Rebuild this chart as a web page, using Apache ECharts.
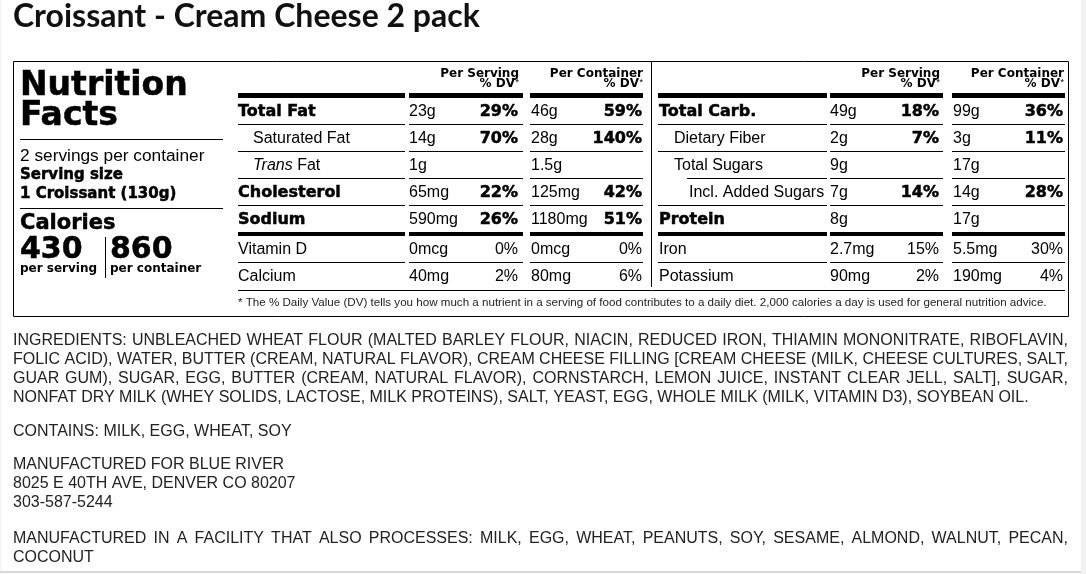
<!DOCTYPE html>
<html>
<head>
<meta charset="utf-8">
<script src="https://cdn.jsdelivr.net/npm/echarts@6/dist/echarts.min.js"></script>
<style>
  html, body { margin: 0; padding: 0; background: #fff; }
  #chart { width: 1086px; height: 574px; }
</style>
</head>
<body>
<div id="chart"></div>
<script>
// label content
const productName = 'Croissant - Cream Cheese 2 pack';
const servingsLine = '2 servings per container';
const servingSize = '1 Croissant (130g)';
const calories = ['430', '860'];
const calorieUnits = ['per serving', 'per container'];
const columnHeads = ['Per Serving', 'Per Container'];

const leftNames = ['Total Fat', 'Saturated Fat', 'Trans Fat', 'Cholesterol', 'Sodium', 'Vitamin D', 'Calcium'];
const leftServing = ['23g', '14g', '1g', '65mg', '590mg', '0mcg', '40mg'];
const leftServingDV = ['29%', '70%', '', '22%', '26%', '0%', '2%'];
const leftContainer = ['46g', '28g', '1.5g', '125mg', '1180mg', '0mcg', '80mg'];
const leftContainerDV = ['59%', '140%', '', '42%', '51%', '0%', '6%'];
const leftKinds = ['main', 'sub', 'trans', 'main', 'main', 'vit', 'vit'];

const rightNames = ['Total Carb.', 'Dietary Fiber', 'Total Sugars', 'Incl. Added Sugars', 'Protein', 'Iron', 'Potassium'];
const rightServing = ['49g', '2g', '9g', '7g', '8g', '2.7mg', '90mg'];
const rightServingDV = ['18%', '7%', '', '14%', '', '15%', '2%'];
const rightContainer = ['99g', '3g', '17g', '14g', '17g', '5.5mg', '190mg'];
const rightContainerDV = ['36%', '11%', '', '28%', '', '30%', '4%'];
const rightKinds = ['main', 'sub', 'sub', 'sub2', 'main', 'vit', 'vit'];

const footnote = '* The % Daily Value (DV) tells you how much a nutrient in a serving of food contributes to a daily diet. 2,000 calories a day is used for general nutrition advice.';

const ingredientLines = [
  'INGREDIENTS: UNBLEACHED WHEAT FLOUR (MALTED BARLEY FLOUR, NIACIN, REDUCED IRON, THIAMIN MONONITRATE, RIBOFLAVIN,',
  'FOLIC ACID), WATER, BUTTER (CREAM, NATURAL FLAVOR), CREAM CHEESE FILLING [CREAM CHEESE (MILK, CHEESE CULTURES, SALT,',
  'GUAR GUM), SUGAR, EGG, BUTTER (CREAM, NATURAL FLAVOR), CORNSTARCH, LEMON JUICE, INSTANT CLEAR JELL, SALT], SUGAR,',
  'NONFAT DRY MILK (WHEY SOLIDS, LACTOSE, MILK PROTEINS), SALT, YEAST, EGG, WHOLE MILK (MILK, VITAMIN D3), SOYBEAN OIL.'
];
const containsLine = 'CONTAINS: MILK, EGG, WHEAT, SOY';
const addressLines = ['MANUFACTURED FOR BLUE RIVER', '8025 E 40TH AVE, DENVER CO 80207', '303-587-5244'];
const facilityLines = [
  'MANUFACTURED IN A FACILITY THAT ALSO PROCESSES: MILK, EGG, WHEAT, PEANUTS, SOY, SESAME, ALMOND, WALNUT, PECAN,',
  'COCONUT'
];

// fonts
const SANS = '"Liberation Sans", Arial, sans-serif';
const HEAVY = '"DejaVu Sans", sans-serif';

const els = [];

function txt(x, base, text, o) {
  o = o || {};
  const size = o.size || 16;
  // big heavy text gets a thin outline so it reads as black weight
  const heavy = o.family === HEAVY && size >= 15;
  els.push({
    type: 'text', x: x, y: base - size * 0.33, silent: true,
    style: {
      text: text,
      fontSize: size,
      fontFamily: o.family || SANS,
      fontWeight: o.weight || 'normal',
      fontStyle: o.italic ? 'italic' : 'normal',
      fill: o.color || '#000',
      stroke: heavy ? '#000' : null,
      lineWidth: heavy ? 0.5 : 0,
      align: o.align || 'left',
      verticalAlign: 'middle',
      rich: o.rich
    }
  });
}
function hline(x1, x2, y, w, c) {
  els.push({ type: 'line', silent: true, shape: { x1: x1, y1: y, x2: x2, y2: y }, style: { stroke: c || '#000', lineWidth: w || 1 } });
}
function vline(x, y1, y2) {
  els.push({ type: 'line', silent: true, shape: { x1: x, y1: y1, x2: x, y2: y2 }, style: { stroke: '#000', lineWidth: 1 } });
}
function box(x, y, w, h, fill) {
  els.push({ type: 'rect', silent: true, shape: { x: x, y: y, width: w, height: h }, style: { fill: fill } });
}

// page edges
box(1081, 0, 5, 574, '#f1f1f1');
box(0, 0, 2, 574, '#f6f6f6');
box(0, 571, 1081, 2, '#d8d8d8');

// title
txt(13, 27, productName, { size: 32, family: 'Lato', weight: 'bold', color: '#111' });

// outer label border
els.push({ type: 'rect', silent: true, shape: { x: 13.5, y: 61.5, width: 1055, height: 255 }, style: { fill: 'none', stroke: '#000', lineWidth: 1 } });

// left panel
txt(20, 97, 'Nutrition', { size: 33, family: HEAVY, weight: 'bold' });
txt(20, 127, 'Facts', { size: 33, family: HEAVY, weight: 'bold' });
hline(20, 223, 139.5);
txt(20, 162, servingsLine, { size: 17.3 });
txt(20, 180, 'Serving size', { size: 15, family: HEAVY, weight: 'bold' });
txt(20, 199, servingSize, { size: 15, family: HEAVY, weight: 'bold' });
hline(20, 223, 208.5);
txt(20, 230, 'Calories', { size: 21, family: HEAVY, weight: 'bold' });
txt(20, 260, calories[0], { size: 30, family: HEAVY, weight: 'bold' });
txt(110, 260, calories[1], { size: 30, family: HEAVY, weight: 'bold' });
txt(20, 273, calorieUnits[0], { size: 12, family: HEAVY, weight: 'bold' });
txt(110, 273, calorieUnits[1], { size: 12, family: HEAVY, weight: 'bold' });
vline(105.5, 237, 278);

// tables
const tables = [
  { names: leftNames, sv: leftServing, sdv: leftServingDV, cv: leftContainer, cdv: leftContainerDV, kinds: leftKinds,
    seg: [[238, 405], [409, 523], [530, 643]], nameX: 238, sRight: 518, cRight: 642 },
  { names: rightNames, sv: rightServing, sdv: rightServingDV, cv: rightContainer, cdv: rightContainerDV, kinds: rightKinds,
    seg: [[658, 827], [830, 943], [952, 1065]], nameX: 659, sRight: 939, cRight: 1063 }
];
const rowTops = [98, 125, 152, 179, 206, 236, 263];

tables.forEach(function (t) {
  // column heads
  [[t.sRight, columnHeads[0]], [t.cRight, columnHeads[1]]].forEach(function (h) {
    txt(h[0] + 1, 78, h[1], { size: 12, family: HEAVY, weight: 'bold', align: 'right' });
    txt(h[0] - 3, 88, '% DV', { size: 12, family: HEAVY, weight: 'bold', align: 'right' });
    txt(h[0] + 1, 85, '*', { size: 9, align: 'right' });
  });
  t.seg.forEach(function (s) {
    box(s[0], 93, s[1] - s[0], 5, '#000');
    box(s[0], 232, s[1] - s[0], 4, '#000');
  });
  t.names.forEach(function (name, i) {
    const kind = t.kinds[i];
    const top = rowTops[i];
    const base = top + 19;
    if (i !== 0 && i !== 5) {
      t.seg.forEach(function (s, j) {
        const x1 = (j === 0 && kind === 'sub2') ? s[0] + 29 : s[0];
        hline(x1, s[1], top - 0.5);
      });
    }
    const bold = kind === 'main';
    let nx = t.nameX;
    if (kind === 'sub' || kind === 'trans') nx += 15;
    if (kind === 'sub2') nx += 30;
    if (kind === 'trans') {
      txt(nx, base, '{i|Trans} Fat', { size: 16, rich: { i: { fontStyle: 'italic', fontSize: 16, fontFamily: SANS } } });
    } else {
      txt(nx, base, name, bold ? { size: 16, family: HEAVY, weight: 'bold' } : { size: 16 });
    }
    txt(t.seg[1][0], base, t.sv[i], { size: 16 });
    txt(t.seg[2][0] + 1, base, t.cv[i], { size: 16 });
    const dvStyle = kind === 'vit' ? { size: 16, align: 'right' } : { size: 16, family: HEAVY, weight: 'bold', align: 'right' };
    if (t.sdv[i]) txt(t.sRight, base, t.sdv[i], dvStyle);
    if (t.cdv[i]) txt(t.cRight, base, t.cdv[i], dvStyle);
  });
});
vline(651.5, 62, 287);
hline(238, 1065, 290.5);
txt(238, 307, footnote, { size: 11.6, color: '#222' });

// ingredient text, justified like the page
const ctx = document.createElement('canvas').getContext('2d');
ctx.font = '16px "Liberation Sans"';
function justified(line, base) {
  const words = line.split(' ');
  const widths = words.map(function (w) { return ctx.measureText(w).width; });
  const total = widths.reduce(function (a, b) { return a + b; }, 0);
  const gap = (1055 - total) / (words.length - 1);
  let x = 13;
  words.forEach(function (w, k) {
    txt(x, base, w, { size: 16, color: '#222' });
    x += widths[k] + gap;
  });
}
ingredientLines.forEach(function (l, i) {
  if (i < ingredientLines.length - 1) justified(l, 346 + i * 19);
  else txt(13, 346 + i * 19, l, { size: 16, color: '#222' });
});
txt(13, 437, containsLine, { size: 16, color: '#222' });
addressLines.forEach(function (l, i) { txt(13, 470 + i * 19, l, { size: 16, color: '#222' }); });
justified(facilityLines[0], 544);
txt(13, 563, facilityLines[1], { size: 16, color: '#222' });

const chart = echarts.init(document.getElementById('chart'));
chart.setOption({
  backgroundColor: '#fff',
  animation: false,
  graphic: { elements: els }
});
</script>
</body>
</html>
